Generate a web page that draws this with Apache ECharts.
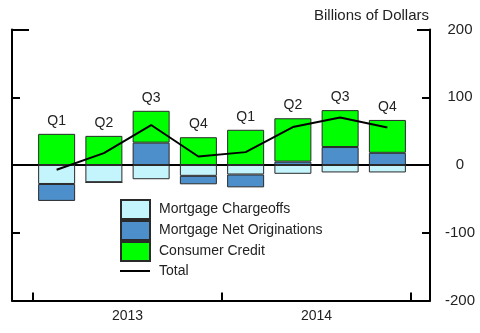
<!DOCTYPE html>
<html><head><meta charset="utf-8">
<script src="https://cdn.jsdelivr.net/npm/echarts@6/dist/echarts.min.js"></script>
<style>html,body{margin:0;padding:0;background:#fff}#c{width:480px;height:333px}</style>
</head><body><div id="c"></div>
<script>
const quarters = ['Q1','Q2','Q3','Q4','Q1','Q2','Q3','Q4'];
const years = ['2013','2014'];
const chargeoffs = [-28, -25.5, -21, -16, -14, -13, -11, -11];
const netOriginations = [-25, 0, 33, -12.5, -19, 5, 26.5, 18];
const consumerCredit = [46, 43, 47, 41, 52, 64, 54.5, 48.5];
const total = [-7, 17.5, 59, 12.5, 19, 56, 70, 55.5];
const yTicks = [-200, -100, 0, 100, 200];

const FONT = 'Liberation Sans, Arial, sans-serif';
const AX = { color: '#000', width: 2 };
const frameY = (extra) => Object.assign({
  type: 'value', min: -200, max: 200, interval: 100, gridIndex: 0,
  axisLine: { show: false, onZero: false, lineStyle: AX },
  axisTick: { show: false }, axisLabel: { show: false }, splitLine: { show: false }
}, extra);
const bar = (name, data, color, extra) => Object.assign({
  name, type: 'bar', stack: 'a', data, barWidth: 37, xAxisIndex: 2, yAxisIndex: 4,
  itemStyle: { color, borderColor: '#2a2a2a', borderWidth: 1 }
}, extra || {});

const chart = echarts.init(document.getElementById('c'));
chart.setOption({
  animation: false,
  backgroundColor: '#fff',
  textStyle: { fontFamily: FONT },
  grid: [
    { left: 12, right: 50, top: 29.5, bottom: 32.5 },
    { left: 33, right: 69, top: 29.5, bottom: 32.5 }
  ],
  title: {
    text: 'Billions of Dollars', right: 46, top: 3,
    textStyle: { fontFamily: FONT, fontSize: 15, fontWeight: 'normal', color: '#222' }
  },
  legend: [{
    data: ['Mortgage Chargeoffs', 'Mortgage Net Originations', 'Consumer Credit'],
    orient: 'vertical', left: 120, top: 199, padding: 0, itemGap: 0,
    itemWidth: 29, itemHeight: 19, icon: 'rect', selectedMode: false,
    textStyle: { fontFamily: FONT, fontSize: 14, color: '#222', padding: [0, 0, 0, 4] }
  }, {
    data: ['Total'], orient: 'vertical', left: 120, top: 264, padding: 0,
    itemWidth: 30, itemHeight: 2, icon: 'rect', selectedMode: false,
    textStyle: { fontFamily: FONT, fontSize: 14, color: '#222', padding: [0, 0, 0, 4] }
  }],
  xAxis: [{
    type: 'value', gridIndex: 0, min: 0, max: 1, position: 'bottom',
    axisLine: { show: true, onZero: false, lineStyle: AX },
    axisTick: { show: false }, axisLabel: { show: false }, splitLine: { show: false }
  }, {
    type: 'value', gridIndex: 0, min: 0, max: 1, position: 'bottom',
    axisLine: { show: true, onZero: true, onZeroAxisIndex: 0, lineStyle: AX },
    axisTick: { show: false }, axisLabel: { show: false }, splitLine: { show: false }
  }, {
    type: 'category', gridIndex: 1, data: quarters, boundaryGap: true, position: 'bottom',
    axisLine: { show: false, onZero: false }, axisTick: { show: false }, axisLabel: { show: false }
  }, {
    type: 'category', gridIndex: 1, data: years, boundaryGap: true, position: 'bottom',
    axisLine: { show: false, onZero: false },
    axisTick: { show: true, inside: true, length: 8, lineStyle: AX },
    axisLabel: { fontFamily: FONT, fontSize: 14, color: '#222', margin: 9 }
  }],
  yAxis: [
    frameY({ position: 'right',
      axisLine: { show: true, onZero: false, lineStyle: AX },
      axisTick: { show: true, inside: true, length: 8, customValues: [100, -100], lineStyle: AX },
      axisLabel: { show: true, customValues: yTicks, align: 'center', margin: 30, fontFamily: FONT, fontSize: 15, color: '#222' } }),
    frameY({ position: 'left',
      axisLine: { show: true, onZero: false, lineStyle: AX },
      axisTick: { show: true, inside: true, length: 8, customValues: [100, -100], lineStyle: AX } }),
    frameY({ position: 'left',
      axisTick: { show: true, inside: true, length: 17, customValues: [200], lineStyle: AX } }),
    frameY({ position: 'right',
      axisTick: { show: true, inside: true, length: 13, customValues: [200], lineStyle: AX } }),
    { type: 'value', gridIndex: 1, min: -200, max: 200, interval: 100, show: false,
      axisLine: { onZero: false }, splitLine: { show: false } }
  ],
  series: [
    bar('Mortgage Chargeoffs', chargeoffs, '#C4F4FC'),
    bar('Mortgage Net Originations', netOriginations, '#4D8FCB'),
    bar('Consumer Credit', consumerCredit, '#00FF00', {
      label: { show: true, position: 'top', distance: 6, formatter: p => quarters[p.dataIndex], fontFamily: FONT, fontSize: 14, color: '#222' }
    }),
    { name: 'Total', type: 'line', data: total, symbol: 'none', xAxisIndex: 2, yAxisIndex: 4, z: 5,
      lineStyle: { color: '#000', width: 2 }, itemStyle: { color: '#000' } }
  ]
});
</script></body></html>
